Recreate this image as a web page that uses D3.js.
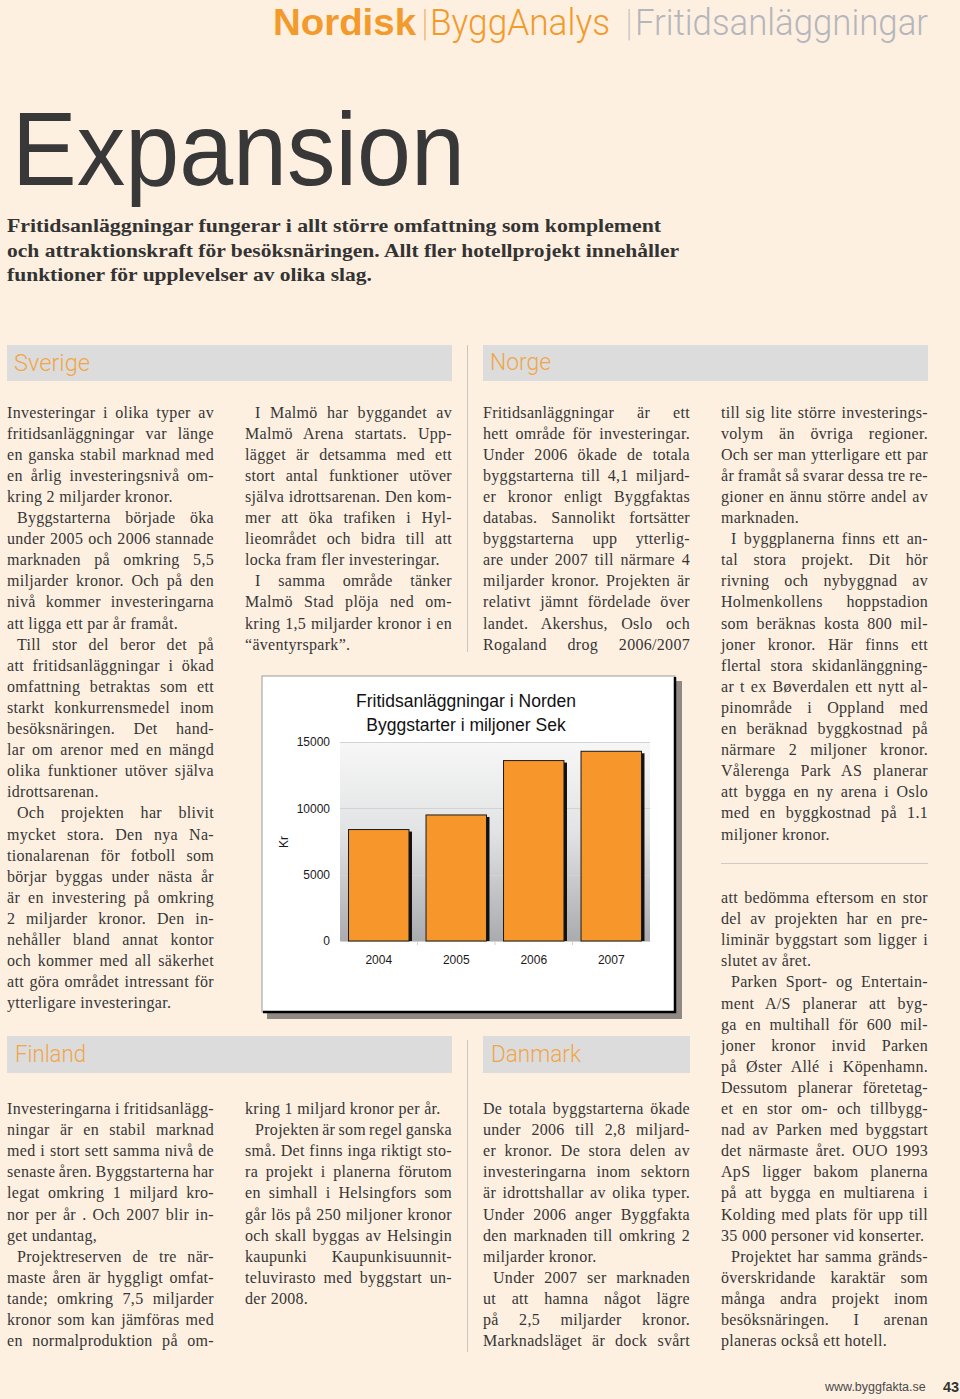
<!DOCTYPE html>
<html><head><meta charset="utf-8">
<script src="https://cdn.jsdelivr.net/npm/d3@7"></script>
<style>
html,body{margin:0;padding:0;background:#fdf0e1;}
svg{display:block;}
.body{font-family:"Liberation Serif","Times New Roman",serif;font-size:16px;fill:#363636;letter-spacing:0.3px;}
.sec{font-family:Roboto,"Liberation Sans",sans-serif;font-weight:300;font-size:23px;fill:#f0a647;}
.ax{font-family:"Liberation Sans",Arial,sans-serif;font-size:12px;fill:#1a1a1a;}
</style></head><body>
<script>
// ---------- chart data ----------
const years = ["2004", "2005", "2006", "2007"];
const byggstarter = [8400, 9500, 13600, 14300];
const yTickValues = [0, 5000, 10000, 15000];
const chartTitle = ["Fritidsanläggningar i Norden", "Byggstarter i miljoner Sek"];
const yAxisLabel = "Kr";

// ---------- page text ----------
const headerParts = ["Nordisk", "|", "ByggAnalys", "|", "Fritidsanläggningar"];
const pageTitle = "Expansion";
const ingress = [
  "Fritidsanläggningar fungerar i allt större omfattning som komplement",
  "och attraktionskraft för besöksnäringen. Allt fler hotellprojekt innehåller",
  "funktioner för upplevelser av olika slag."
];
const sections = ["Sverige", "Norge", "Finland", "Danmark"];
const footerUrl = "www.byggfakta.se";
const pageNo = "43";

const sverige1 = [
  {i:false, j:false, l:["Investeringar i olika typer av","fritidsanläggningar var länge","en ganska stabil marknad med","en årlig investeringsnivå om-","kring 2 miljarder kronor."]},
  {i:true, j:false, l:["Byggstarterna började öka","under 2005 och 2006 stannade","marknaden på omkring 5,5","miljarder kronor. Och på den","nivå kommer investeringarna","att ligga ett par år framåt."]},
  {i:true, j:false, l:["Till stor del beror det på","att fritidsanläggningar i ökad","omfattning betraktas som ett","starkt konkurrensmedel inom","besöksnäringen. Det hand-","lar om arenor med en mängd","olika funktioner utöver själva","idrottsarenan."]},
  {i:true, j:false, l:["Och projekten har blivit","mycket stora. Den nya Na-","tionalarenan för fotboll som","börjar byggas under nästa år","är en investering på omkring","2 miljarder kronor. Den in-","nehåller bland annat kontor","och kommer med all säkerhet","att göra området intressant för","ytterligare investeringar."]}
];
const sverige2 = [
  {i:true, j:false, l:["I Malmö har byggandet av","Malmö Arena startats. Upp-","lägget är detsamma med ett","stort antal funktioner utöver","själva idrottsarenan. Den kom-","mer att öka trafiken i Hyl-","lieområdet och bidra till att","locka fram fler investeringar."]},
  {i:true, j:false, l:["I samma område tänker","Malmö Stad plöja ned om-","kring 1,5 miljarder kronor i en","“äventyrspark”."]}
];
const norge1 = [
  {i:false, j:true, l:["Fritidsanläggningar är ett","hett område för investeringar.","Under 2006 ökade de totala","byggstarterna till 4,1 miljard-","er kronor enligt Byggfaktas","databas. Sannolikt fortsätter","byggstarterna upp ytterlig-","are under 2007 till närmare 4","miljarder kronor. Projekten är","relativt jämnt fördelade över","landet. Akershus, Oslo och","Rogaland drog 2006/2007"]}
];
const norge2 = [
  {i:false, j:false, l:["till sig lite större investerings-","volym än övriga regioner.","Och ser man ytterligare ett par","år framåt så svarar dessa tre re-","gioner en ännu större andel av","marknaden."]},
  {i:true, j:false, l:["I byggplanerna finns ett an-","tal stora projekt. Dit hör","rivning och nybyggnad av","Holmenkollens hoppstadion","som beräknas kosta 800 mil-","joner kronor. Här finns ett","flertal stora skidanlänggning-","ar t ex Bøverdalen ett nytt al-","pinområde i Oppland med","en beräknad byggkostnad på","närmare 2 miljoner kronor.","Vålerenga Park AS planerar","att bygga en ny arena i Oslo","med en byggkostnad på 1.1","miljoner kronor."]}
];
const danmark2 = [
  {i:false, j:false, l:["att bedömma eftersom en stor","del av projekten har en pre-","liminär byggstart som ligger i","slutet av året."]},
  {i:true, j:false, l:["Parken Sport- og Entertain-","ment A/S planerar att byg-","ga en multihall för 600 mil-","joner kronor invid Parken","på Øster Allé i Köpenhamn.","Dessutom planerar företetag-","et en stor om- och tillbygg-","nad av Parken med byggstart","det närmaste året. OUO 1993","ApS ligger bakom planerna","på att bygga en multiarena i","Kolding med plats för upp till","35 000 personer vid konserter."]},
  {i:true, j:false, l:["Projektet har samma gränds-","överskridande karaktär som","många andra projekt inom","besöksnäringen. I arenan","planeras också ett hotell."]}
];
const finland1 = [
  {i:false, j:false, l:["Investeringarna i fritidsanlägg-","ningar är en stabil marknad","med i stort sett samma nivå de","senaste åren. Byggstarterna har","legat omkring 1 miljard kro-","nor per år . Och 2007 blir in-","get undantag,"]},
  {i:true, j:true, l:["Projektreserven de tre när-","maste åren är hyggligt omfat-","tande; omkring 7,5 miljarder","kronor som kan jämföras med","en normalproduktion på om-"]}
];
const finland2 = [
  {i:false, j:false, l:["kring 1 miljard kronor per år."]},
  {i:true, j:false, l:["Projekten är som regel ganska","små. Det finns inga riktigt sto-","ra projekt i planerna förutom","en simhall i Helsingfors som","går lös på 250 miljoner kronor","och skall byggas av Helsingin","kaupunki Kaupunkisuunnit-","teluvirasto med byggstart un-","der 2008."]}
];
const danmark1 = [
  {i:false, j:false, l:["De totala byggstarterna ökade","under 2006 till 2,8 miljard-","er kronor. De stora delen av","investeringarna inom sektorn","är idrottshallar av olika typer.","Under 2006 anger Byggfakta","den marknaden till omkring 2","miljarder kronor."]},
  {i:true, j:true, l:["Under 2007 ser marknaden","ut att hamna något lägre","på 2,5 miljarder kronor.","Marknadsläget är dock svårt"]}
];

// ---------- drawing ----------
const W = 960, H = 1399;
const svg = d3.select("body").append("svg").attr("width", W).attr("height", H);
svg.append("rect").attr("width", W).attr("height", H).attr("fill", "#fdf0e1");

// header
const hdr = svg.append("g");
const hdrSpec = [
  {x:273, w:143, weight:700, fill:"#f39a2b"},
  {x:423, w:4, weight:300, fill:"#f39a2b"},
  {x:430, w:180, weight:300, fill:"#f39a2b"},
  {x:627, w:4, weight:300, fill:"#b5b6bc"},
  {x:635, w:293, weight:300, fill:"#b5b6bc"}
];
headerParts.forEach((t, k) => {
  const s = hdrSpec[k];
  hdr.append("text").attr("x", s.x).attr("y", 35)
    .attr("font-family", s.weight === 700 ? "'Liberation Sans',Arial,sans-serif" : "Roboto,'Liberation Sans',sans-serif")
    .attr("font-weight", s.weight).attr("font-size", 37).attr("fill", s.fill)
    .attr("textLength", s.w).attr("lengthAdjust", "spacingAndGlyphs").text(t);
});

// title
svg.append("text").attr("x", 12).attr("y", 185)
  .attr("font-family", "'Liberation Sans',Arial,sans-serif").attr("font-size", 104)
  .attr("fill", "#383838").attr("textLength", 453).attr("lengthAdjust", "spacingAndGlyphs")
  .text(pageTitle);

// ingress
const ingW = [654, 672, 365];
ingress.forEach((t, k) => {
  svg.append("text").attr("x", 7).attr("y", 232 + k * 24.5)
    .attr("font-family", "'Liberation Serif','Times New Roman',serif").attr("font-weight", 700)
    .attr("font-size", 19.5).attr("fill", "#333")
    .attr("textLength", ingW[k]).attr("lengthAdjust", "spacingAndGlyphs").text(t);
});

// section boxes
const secSpec = [
  {x:7, y:345, w:445, h:36, tx:14, ty:371, tw:76},
  {x:483, y:345, w:445, h:36, tx:490, ty:370, tw:61},
  {x:7, y:1036, w:445, h:37, tx:15, ty:1062, tw:71},
  {x:483, y:1036, w:207, h:37, tx:491, ty:1062, tw:90}
];
sections.forEach((t, k) => {
  const s = secSpec[k];
  svg.append("rect").attr("x", s.x).attr("y", s.y).attr("width", s.w).attr("height", s.h).attr("fill", "#dcdcdd");
  svg.append("text").attr("class", "sec").attr("x", s.tx).attr("y", s.ty)
    .attr("textLength", s.tw).attr("lengthAdjust", "spacingAndGlyphs").text(t);
});

// dividers
svg.append("line").attr("x1", 467.5).attr("x2", 467.5).attr("y1", 345).attr("y2", 652).attr("stroke", "#c9c6c2");
svg.append("line").attr("x1", 467.5).attr("x2", 467.5).attr("y1", 1040).attr("y2", 1352).attr("stroke", "#c9c6c2");
svg.append("line").attr("x1", 721).attr("x2", 928).attr("y1", 863.5).attr("y2", 863.5).attr("stroke", "#cfcac4");

// justified text blocks
const LH = 21.1, COLW = 207;
function textBlock(x, y0, paras) {
  let y = y0;
  paras.forEach(p => {
    p.l.forEach((line, k) => {
      const ind = (k === 0 && p.i) ? 10 : 0;
      const t = svg.append("text").attr("class", "body").attr("x", x + ind).attr("y", y).text(line);
      const last = k === p.l.length - 1;
      if (!last || p.j) {
        const target = COLW - ind;
        const n = (line.match(/ /g) || []).length;
        const node = t.node();
        let w = node.getComputedTextLength();
        if (n > 0) {
          let ws = (target - w) / n;
          if (ws < -1.5) {
            const chars = line.length;
            const extra = (target - (w + (-1.5) * n)) / chars; // negative
            t.style("letter-spacing", (0.3 + extra) + "px");
            ws = -1.5;
          }
          t.attr("word-spacing", ws);
          for (let it = 0; it < 2; it++) {
            const w2 = node.getComputedTextLength();
            if (Math.abs(w2 - target) > 0.5) { ws += (target - w2) / n; t.attr("word-spacing", ws); }
          }
          const w3 = node.getComputedTextLength();
          if (Math.abs(w3 - target) > 2) {
            t.attr("word-spacing", null).attr("textLength", target).attr("lengthAdjust", "spacing");
          }
        } else if (w > target) {
          t.attr("textLength", target).attr("lengthAdjust", "spacingAndGlyphs");
        }
      }
      y += LH;
    });
  });
}
const B0 = 417.5, B1 = 1114, B2 = 903;
textBlock(7, B0, sverige1);
textBlock(245, B0, sverige2);
textBlock(483, B0, norge1);
textBlock(721, B0, norge2);
textBlock(721, B2, danmark2);
textBlock(7, B1, finland1);
textBlock(245, B1, finland2);
textBlock(483, B1, danmark1);

// ---------- chart ----------
const ch = svg.append("g");
const frame = {x:262, y:676, w:413, h:336};
ch.append("rect").attr("x", frame.x + 5).attr("y", frame.y + 5).attr("width", frame.w + 2).attr("height", frame.h + 2).attr("fill", "#8e8983");
ch.append("rect").attr("x", frame.x).attr("y", frame.y).attr("width", frame.w).attr("height", frame.h)
  .attr("fill", "#fff").attr("stroke", "#9a9a9a").attr("stroke-width", 1);
ch.append("path").attr("d", `M${frame.x + frame.w},${frame.y + 1}V${frame.y + frame.h}H${frame.x + 1}`)
  .attr("fill", "none").attr("stroke", "#000").attr("stroke-width", 2.5);

const x = d3.scaleBand().domain(years).range([340, 650]).paddingInner(0.22).paddingOuter(0.11);
const y = d3.scaleLinear().domain([0, 15000]).range([941, 742]);

const defs = svg.append("defs");
const grad = defs.append("linearGradient").attr("id", "bg").attr("x1", 0).attr("y1", 0).attr("x2", 0).attr("y2", 1);
grad.append("stop").attr("offset", 0).attr("stop-color", "#f7f7f7");
grad.append("stop").attr("offset", 0.45).attr("stop-color", "#e2e3e4");
grad.append("stop").attr("offset", 1).attr("stop-color", "#a9abae");
ch.append("rect").attr("x", 340).attr("y", y(15000)).attr("width", 310).attr("height", y(0) - y(15000)).attr("fill", "url(#bg)");

// gridlines
ch.append("g").selectAll("line").data(yTickValues.filter(d => d > 0)).join("line")
  .attr("x1", 340).attr("x2", 650).attr("y1", d => Math.round(y(d)) + 0.5).attr("y2", d => Math.round(y(d)) + 0.5)
  .attr("stroke", "#d2d3d5");

// y axis
const yAxis = ch.append("g").attr("transform", "translate(334,0)")
  .call(d3.axisLeft(y).tickValues(yTickValues).tickSize(0).tickPadding(4).tickFormat(d3.format("d")));
yAxis.select(".domain").remove();
yAxis.selectAll("text").attr("class", "ax").attr("font-family", null).attr("font-size", null).attr("fill", null);

// x axis
const xAxis = ch.append("g").attr("transform", `translate(0,${y(0)})`)
  .call(d3.axisBottom(x).tickSize(0).tickPadding(14));
xAxis.select(".domain").attr("stroke", "#d0d0d0");
xAxis.selectAll("text").attr("class", "ax").attr("font-family", null).attr("font-size", null).attr("fill", null);
ch.append("g").selectAll("line").data(years.slice(1)).join("line")
  .attr("x1", d => x(d) - x.step() * x.paddingInner() / 2).attr("x2", d => x(d) - x.step() * x.paddingInner() / 2)
  .attr("y1", y(0)).attr("y2", y(0) + 4).attr("stroke", "#d0d0d0");

// bars
const data = years.map((yr, k) => ({yr, v: byggstarter[k]}));
ch.append("g").selectAll("rect").data(data).join("rect")
  .attr("x", d => x(d.yr) + 3).attr("y", d => y(d.v) + 2)
  .attr("width", x.bandwidth()).attr("height", d => y(0) - y(d.v) - 2).attr("fill", "#111");
ch.append("g").selectAll("rect").data(data).join("rect")
  .attr("x", d => x(d.yr)).attr("y", d => y(d.v))
  .attr("width", x.bandwidth()).attr("height", d => y(0) - y(d.v))
  .attr("fill", "#f7972b").attr("stroke", "#1a1a1a").attr("stroke-width", 1);

// titles
chartTitle.forEach((t, k) => {
  ch.append("text").attr("x", 466).attr("y", 707 + k * 24).attr("text-anchor", "middle")
    .attr("font-family", "'Liberation Sans',Arial,sans-serif").attr("font-size", 17.5).attr("fill", "#111").text(t);
});
ch.append("text").attr("transform", "translate(288,842) rotate(-90)").attr("text-anchor", "middle")
  .attr("class", "ax").attr("font-size", 13).text(yAxisLabel);

// footer
svg.append("text").attr("x", 825).attr("y", 1391).attr("font-family", "'Liberation Sans',Arial,sans-serif")
  .attr("font-size", 12.5).attr("fill", "#4a4a4a").text(footerUrl);
svg.append("text").attr("x", 943).attr("y", 1392).attr("font-family", "'Liberation Sans',Arial,sans-serif")
  .attr("font-size", 14.5).attr("font-weight", 700).attr("fill", "#333").text(pageNo);
</script>
</body></html>
